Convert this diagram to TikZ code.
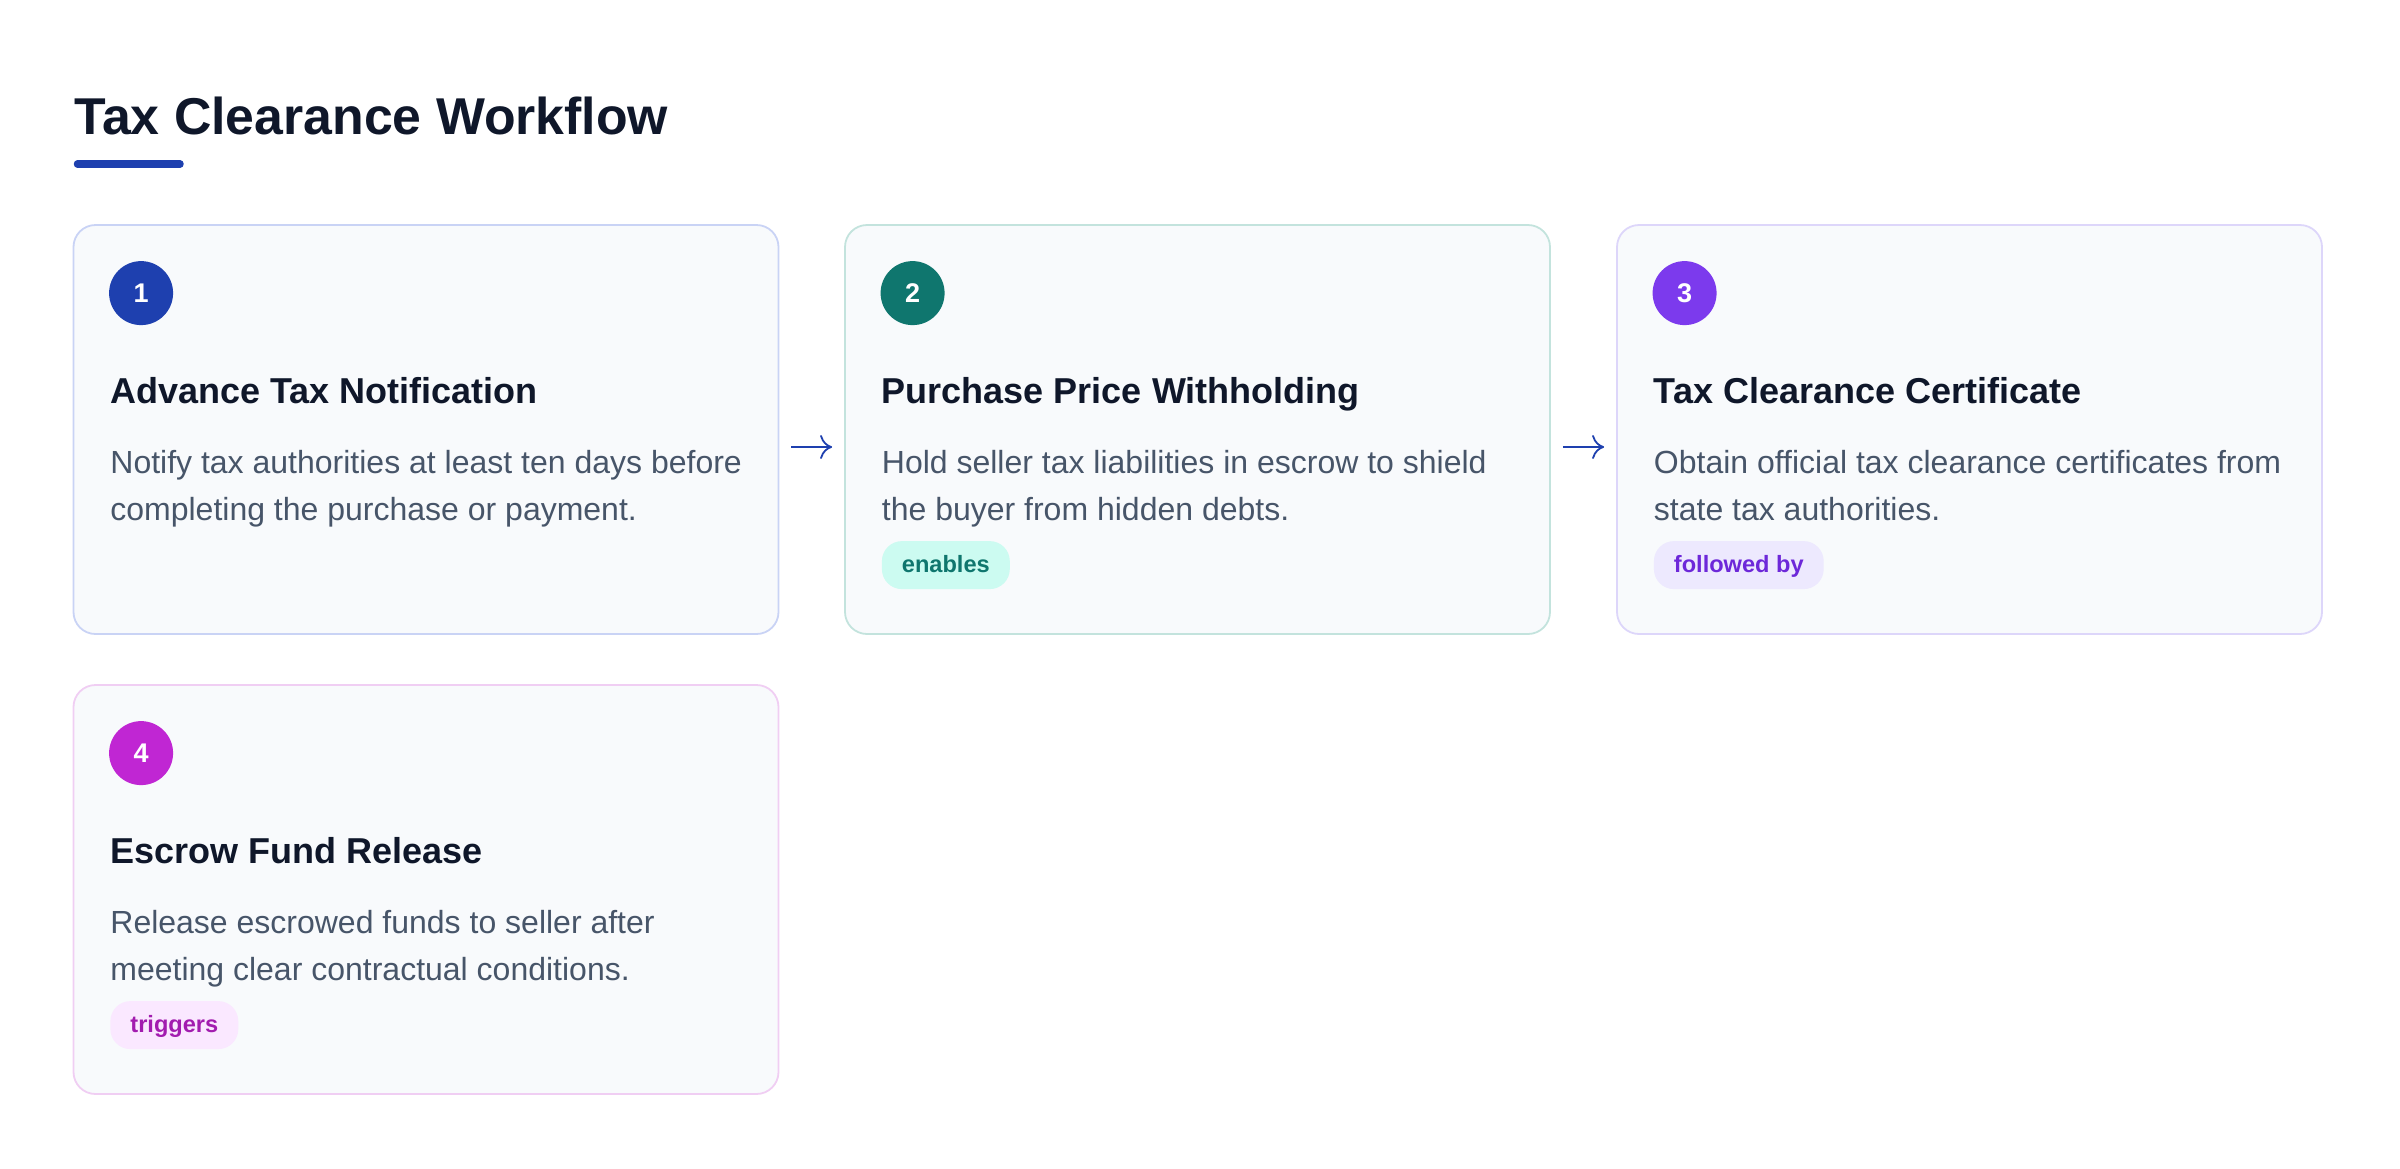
\documentclass[tikz,border=0pt]{standalone}
\usepackage{fontspec}
\setmainfont{Liberation Sans}
\usetikzlibrary{arrows.meta,calc}

\definecolor{titlecol}{HTML}{0F172A}
\definecolor{bodycol}{HTML}{475569}
\definecolor{accent}{HTML}{1E40AF}
\definecolor{cardfill}{HTML}{F8FAFC}
\definecolor{borderA}{HTML}{C9D3F5}
\definecolor{borderB}{HTML}{C3E3DD}
\definecolor{borderC}{HTML}{DDD6FA}
\definecolor{borderD}{HTML}{F0CEF3}
\definecolor{badgeA}{HTML}{1E40AF}
\definecolor{badgeB}{HTML}{0F766E}
\definecolor{badgeC}{HTML}{7C3AED}
\definecolor{badgeD}{HTML}{C026D3}
\definecolor{tagfillB}{HTML}{CCFBF1}
\definecolor{tagfillC}{HTML}{EDE9FE}
\definecolor{tagfillD}{HTML}{FAE8FF}
\definecolor{tagtextB}{HTML}{0F766E}
\definecolor{tagtextC}{HTML}{6D28D9}
\definecolor{tagtextD}{HTML}{A21CAF}

\tikzset{
  card/.style={draw=#1, fill=cardfill, line width=0.45pt, rounded corners=5.5pt,
    minimum width=176.25pt, minimum height=102.25pt, inner sep=0pt},
  badge/.style={circle, fill=#1, text=white, minimum size=16pt, inner sep=0pt,
    font=\bfseries\fontsize{6.75}{8}\selectfont},
  heading/.style={anchor=base west, inner sep=0pt, text=titlecol,
    font=\bfseries\fontsize{9}{11}\selectfont},
  body/.style={anchor=base west, inner sep=0pt, align=left, text=bodycol,
    font=\fontsize{8}{11.875}\selectfont},
  tag/.style={anchor=west, fill=#1, rounded corners=5pt, minimum height=12pt,
    inner xsep=5pt, inner ysep=0pt, text height=4.5pt, text depth=1pt,
    font=\bfseries\fontsize{5.9}{7}\selectfont},
  flow/.style={draw=accent, line width=0.45pt, -{To[length=3pt,width=6pt]},
    shorten <=3pt, shorten >=3pt}
}

\begin{document}
\begin{tikzpicture}[x=0.25pt, y=-0.25pt]
  \useasboundingbox (0,0) rectangle (2400,1168);

  % title
  \node[anchor=base west, inner sep=0pt, text=titlecol,
        font=\bfseries\fontsize{12.95}{15}\selectfont] (title) at (73.5,134) {Tax Clearance Workflow};
  \draw[accent, line width=1.875pt, line cap=round] (77.5,164) -- (180,164);

  % cards
  \node[card=borderA] (c1) at (426,429.5) {};
  \node[card=borderB] (c2) at (1197.5,429.5) {};
  \node[card=borderC] (c3) at (1969.5,429.5) {};
  \node[card=borderD] (c4) at (426,889.5) {};

  % step 1
  \node[badge=badgeA] (n1) at ($(c1.north west)+(68.5,69)$) {1};
  \node[heading] (h1) at ($(c1.north west)+(37,179.5)$) {Advance Tax Notification};
  \node[body] (b1) at ($(c1.north west)+(37,296.5)$)
    {Notify tax authorities at least ten days before\\completing the purchase or payment.};

  % step 2
  \node[badge=badgeB] (n2) at ($(c2.north west)+(68.5,69)$) {2};
  \node[heading] (h2) at ($(c2.north west)+(37,179.5)$) {Purchase Price Withholding};
  \node[body] (b2) at ($(c2.north west)+(37,296.5)$)
    {Hold seller tax liabilities in escrow to shield\\the buyer from hidden debts.};
  \node[tag=tagfillB, text=tagtextB] (t2) at ($(c2.north west)+(37,341)$) {enables};

  % step 3
  \node[badge=badgeC] (n3) at ($(c3.north west)+(68.5,69)$) {3};
  \node[heading] (h3) at ($(c3.north west)+(37,179.5)$) {Tax Clearance Certificate};
  \node[body] (b3) at ($(c3.north west)+(37,296.5)$)
    {Obtain official tax clearance certificates from\\state tax authorities.};
  \node[tag=tagfillC, text=tagtextC] (t3) at ($(c3.north west)+(37,341)$) {followed by};

  % step 4
  \node[badge=badgeD] (n4) at ($(c4.north west)+(68.5,69)$) {4};
  \node[heading] (h4) at ($(c4.north west)+(37,179.5)$) {Escrow Fund Release};
  \node[body] (b4) at ($(c4.north west)+(37,296.5)$)
    {Release escrowed funds to seller after\\meeting clear contractual conditions.};
  \node[tag=tagfillD, text=tagtextD] (t4) at ($(c4.north west)+(37,341)$) {triggers};

  % arrows between cards
  \draw[flow] ($(c1.east)+(0,17.5)$) -- ($(c2.west)+(0,17.5)$);
  \draw[flow] ($(c2.east)+(0,17.5)$) -- ($(c3.west)+(0,17.5)$);
\end{tikzpicture}
\end{document}
